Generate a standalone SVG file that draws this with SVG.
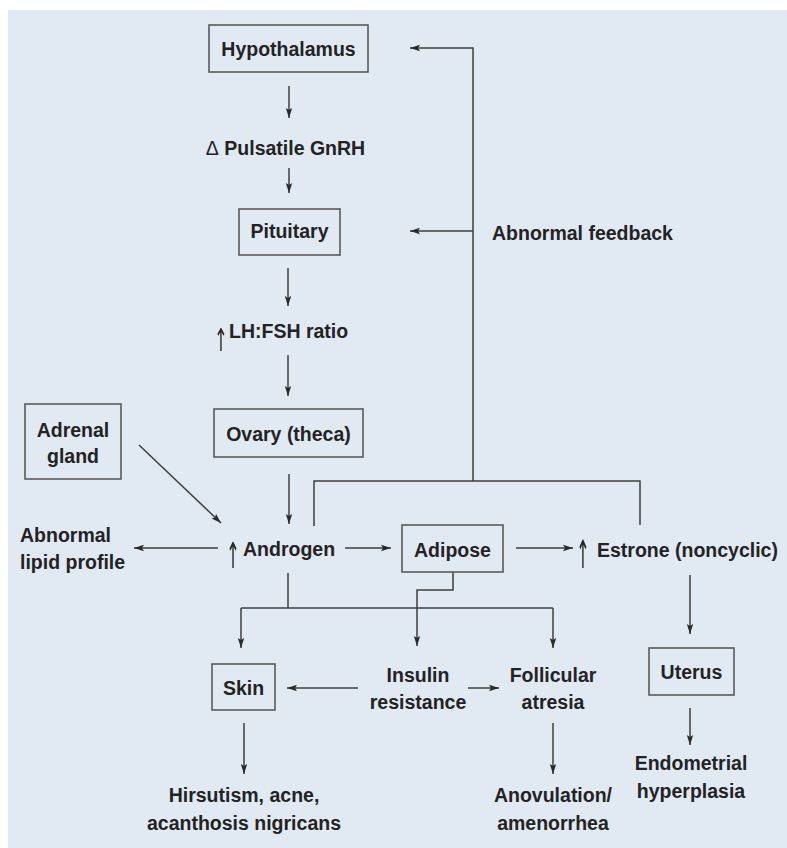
<svg xmlns="http://www.w3.org/2000/svg" width="787" height="848" viewBox="0 0 787 848">
<style>
.t{font-family:"Liberation Sans",Arial,sans-serif;font-weight:bold;font-size:19.5px;fill:#232323}
.m{text-anchor:middle}
.box{fill:none;stroke:#5a5a5a;stroke-width:1.6}
.c{fill:none;stroke:#3e3e3e;stroke-width:1.5}
.ar{marker-end:url(#ah)}
.up{font-family:"DejaVu Sans",sans-serif;font-weight:normal;font-size:30px;fill:#262626;text-anchor:middle}
.th{font-weight:normal}
</style>
<defs>
<marker id="ah" markerUnits="userSpaceOnUse" markerWidth="11" markerHeight="8" refX="10" refY="4" orient="auto">
<path d="M0,0.8 L10,4 L0,7.2 L2,4 z" fill="#2a2a2a"/>
</marker>
<filter id="gray" x="-50%" y="-20%" width="200%" height="140%"><feOffset dx="0" dy="0"/></filter>
</defs>
<rect x="8" y="10" width="779" height="838" fill="#e1eaf3"/>
<g id="connectors">
<line class="c ar" x1="289" y1="86" x2="289" y2="118"/>
<line class="c ar" x1="289" y1="168" x2="289" y2="193"/>
<line class="c ar" x1="288" y1="268" x2="288" y2="306"/>
<line class="c ar" x1="288" y1="355" x2="288" y2="396"/>
<line class="c ar" x1="289" y1="474" x2="289" y2="524"/>
<line class="c ar" x1="139" y1="445" x2="221" y2="523"/>
<line class="c ar" x1="218" y1="548" x2="134" y2="548"/>
<line class="c ar" x1="345" y1="548" x2="391" y2="548"/>
<line class="c ar" x1="516" y1="548" x2="573" y2="548"/>
<polyline class="c" points="314,526 314,481 640,481 640,525"/>
<polyline class="c ar" points="473,481 473,48 410,48"/>
<line class="c ar" x1="473" y1="231" x2="410" y2="231"/>
<line class="c ar" x1="690" y1="575" x2="690" y2="634"/>
<line class="c ar" x1="690" y1="708" x2="690" y2="745"/>
<line class="c" x1="288" y1="573" x2="288" y2="608"/>
<line class="c" x1="241" y1="608" x2="553" y2="608"/>
<line class="c ar" x1="241" y1="608" x2="241" y2="648"/>
<line class="c ar" x1="553" y1="608" x2="553" y2="648"/>
<polyline class="c ar" points="453,572 453,590 417,590 417,646"/>
<line class="c ar" x1="358" y1="688" x2="287" y2="688"/>
<line class="c ar" x1="468" y1="688" x2="499" y2="688"/>
<line class="c ar" x1="244" y1="723" x2="244" y2="774"/>
<line class="c ar" x1="553" y1="723" x2="553" y2="774"/>
</g>
<g id="hypothalamus"><rect class="box" x="209" y="25" width="159" height="47"/><text class="t m" x="288.5" y="56">Hypothalamus</text></g>
<g id="gnrh"><text class="t m" x="285.5" y="155"><tspan class="th">Δ</tspan> Pulsatile GnRH</text></g>
<g id="pituitary"><rect class="box" x="239" y="209" width="101" height="46"/><text class="t m" x="289.5" y="238">Pituitary</text></g>
<g id="lhfsh"><g filter="url(#gray)"><text class="up" transform="translate(221,351) scale(0.55,1.05)">↑</text></g><text class="t" x="229" y="338">LH:FSH ratio</text></g>
<g id="feedback"><text class="t" x="492" y="240">Abnormal feedback</text></g>
<g id="adrenal"><rect class="box" x="25" y="404" width="96" height="75"/><text class="t m" x="73" y="437">Adrenal</text><text class="t m" x="73" y="463">gland</text></g>
<g id="ovary"><rect class="box" x="214" y="409" width="149" height="48"/><text class="t m" x="288.5" y="441">Ovary (theca)</text></g>
<g id="lipid"><text class="t" x="20" y="542">Abnormal</text><text class="t" x="20" y="569">lipid profile</text></g>
<g id="androgen"><g filter="url(#gray)"><text class="up" transform="translate(233,568) scale(0.55,1.2)">↑</text></g><text class="t" x="243" y="556">Androgen</text></g>
<g id="adipose"><rect class="box" x="402" y="525" width="101" height="47"/><text class="t m" x="452.5" y="557">Adipose</text></g>
<g id="estrone"><g filter="url(#gray)"><text class="up" transform="translate(583,568) scale(0.55,1.3)">↑</text></g><text class="t" x="597" y="557">Estrone (noncyclic)</text></g>
<g id="skin"><rect class="box" x="212" y="664" width="63" height="46"/><text class="t m" x="243.5" y="695">Skin</text></g>
<g id="insulin"><text class="t m" x="418" y="682">Insulin</text><text class="t m" x="418" y="709">resistance</text></g>
<g id="follicular"><text class="t m" x="553" y="682">Follicular</text><text class="t m" x="553" y="709">atresia</text></g>
<g id="uterus"><rect class="box" x="649" y="648" width="85" height="47"/><text class="t m" x="691.5" y="679">Uterus</text></g>
<g id="hirsutism"><text class="t m" x="244" y="802">Hirsutism, acne,</text><text class="t m" x="244" y="830">acanthosis nigricans</text></g>
<g id="anovulation"><text class="t m" x="553" y="802">Anovulation/</text><text class="t m" x="553" y="830">amenorrhea</text></g>
<g id="endometrial"><text class="t m" x="691" y="770">Endometrial</text><text class="t m" x="691" y="798">hyperplasia</text></g>
</svg>
